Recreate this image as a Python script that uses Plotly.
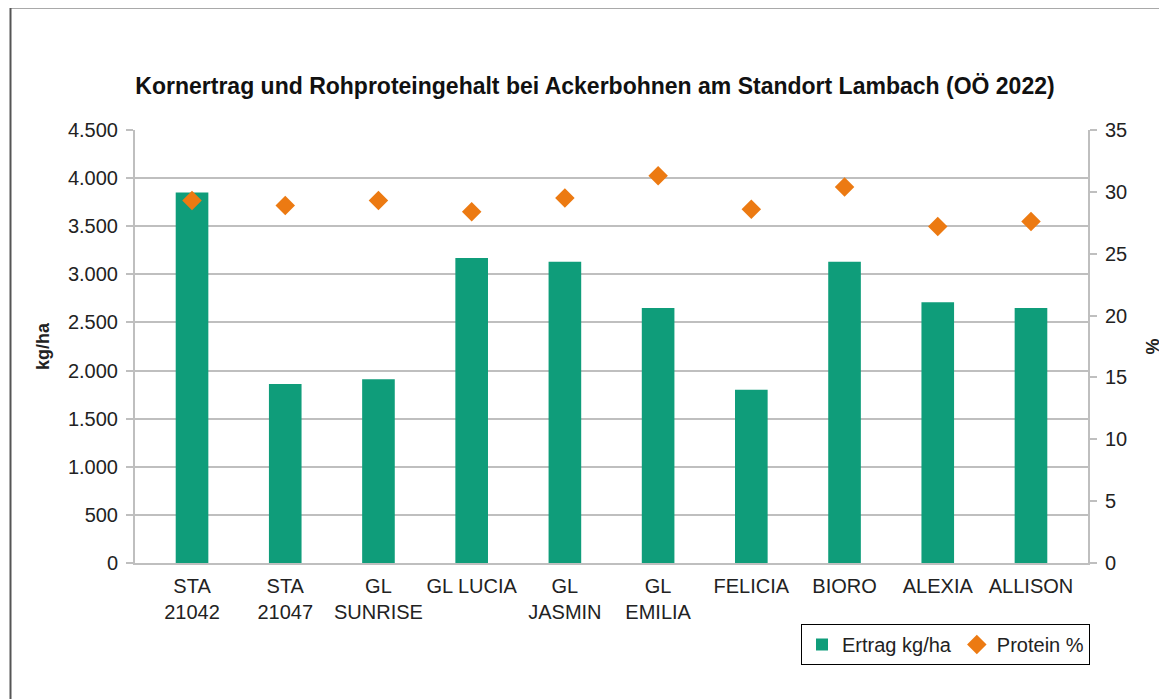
import plotly.graph_objects as go

categories = ["STA<br>21042", "STA<br>21047", "GL<br>SUNRISE", "GL LUCIA", "GL<br>JASMIN",
              "GL<br>EMILIA", "FELICIA", "BIORO", "ALEXIA", "ALLISON"]
ertrag = [3850, 1860, 1910, 3170, 3130, 2650, 1800, 3130, 2710, 2650]
protein = [29.3, 28.9, 29.3, 28.4, 29.5, 31.3, 28.6, 30.4, 27.2, 27.6]
left_ticks = [0, 500, 1000, 1500, 2000, 2500, 3000, 3500, 4000, 4500]
left_labels = ["0", "500", "1.000", "1.500", "2.000", "2.500", "3.000", "3.500", "4.000", "4.500"]
right_ticks = [0, 5, 10, 15, 20, 25, 30, 35]

FONT = "Liberation Sans, Arial, sans-serif"
GREEN = "#0f9d7a"
ORANGE = "#ec7a12"
GRID = "#bfbfbf"

# page offset of the plotly div inside the html body (8px default body margin)
OFF = 8
L, T, R, B = 135 - OFF, 130 - OFF, 1088 - OFF, 563 - OFF
W, H = 1167, 699
PW, PH = R - L, B - T

fig = go.Figure()
fig.add_trace(go.Bar(x=categories, y=ertrag, name="Ertrag kg/ha", marker_color=GREEN,
                     marker_line_width=0, width=0.35, yaxis="y"))
fig.add_trace(go.Scatter(x=categories, y=protein, name="Protein %", mode="markers",
                         marker=dict(symbol="diamond", size=15, color=ORANGE), yaxis="y2"))

fig.update_layout(
    width=W, height=H,
    margin=dict(l=L, r=W - R, t=T, b=H - B, autoexpand=False),
    paper_bgcolor="white", plot_bgcolor="white",
    font=dict(family=FONT, size=20, color="#222222"),
    title=dict(text="<b>Kornertrag und Rohproteingehalt bei Ackerbohnen am Standort Lambach (OÖ 2022)</b>",
               x=(595 - 135) / PW, xref="paper", xanchor="center", y=1 - (86 - OFF) / H,
               yref="container", yanchor="middle",
               font=dict(size=23, color="#111111")),
    xaxis=dict(showgrid=False, showline=True, linecolor=GRID, linewidth=2, ticks="",
               tickfont=dict(size=20), ticklabelstandoff=4, automargin=False),
    yaxis=dict(range=[0, 4500], tickvals=left_ticks, ticktext=left_labels, showgrid=True,
               gridcolor=GRID, gridwidth=2, showline=True, linecolor=GRID, linewidth=2,
               ticks="outside", ticklen=7, tickcolor=GRID, tickwidth=2, zeroline=False,
               tickfont=dict(size=20), automargin=False, ticklabelstandoff=4,
               title=dict(text="<b>kg/ha</b>", font=dict(size=18), standoff=14)),
    yaxis2=dict(range=[0, 35], tickvals=right_ticks, overlaying="y", side="right", showgrid=False,
                showline=True, linecolor=GRID, linewidth=2, ticks="outside", ticklen=7,
                tickcolor=GRID, tickwidth=2, zeroline=False, tickfont=dict(size=20),
                automargin=False, ticklabelstandoff=4,
                title=dict(text="<b>%</b>", font=dict(size=18), standoff=20)),
    legend=dict(orientation="h", x=(1090 - 135) / PW, xanchor="right", y=-(624 - 563) / PH,
                yanchor="top", bordercolor="#000000", borderwidth=1, bgcolor="white",
                font=dict(size=20), itemwidth=30, tracegroupgap=0),
    bargap=0.65,
    shapes=[dict(type="rect", xref="paper", yref="paper",
                 x0=(10.5 - 135) / PW, x1=1.2, y0=-0.5, y1=1 + (130 - 7.5) / PH,
                 line=dict(color="#555555", width=2), fillcolor="rgba(0,0,0,0)", layer="below")],
)

fig.write_html("out.html")
